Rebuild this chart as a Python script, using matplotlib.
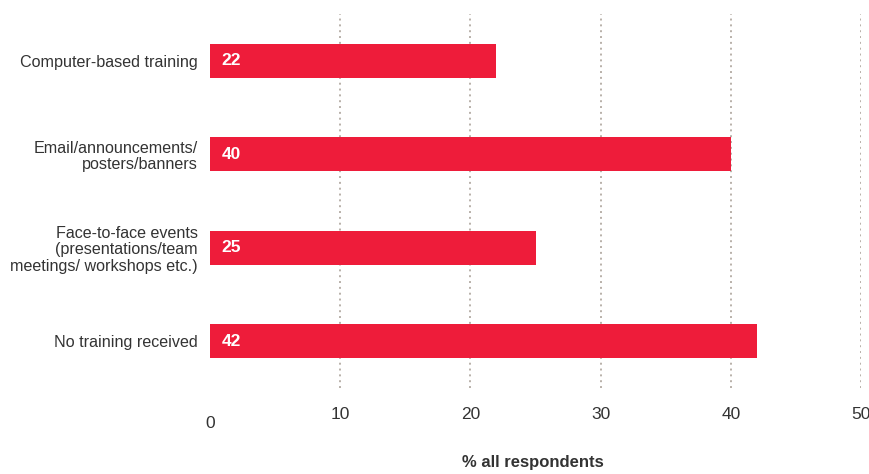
import matplotlib.pyplot as plt
from matplotlib.transforms import offset_copy

plt.rcParams['font.family'] = ['Liberation Sans', 'DejaVu Sans']

# 數據
categories = [
    'Computer-based training',
    'Email/announcements/\nposters/banners',
    'Face-to-face events\n(presentations/team\nmeetings/ workshops etc.)',
    'No training received',
]
values = [22, 40, 25, 42]
ticks = [10, 20, 30, 40, 50]

bar_color = '#ee1c3a'
text_color = '#333333'
grid_color = '#b8b0a9'

fig = plt.figure(figsize=(8.69, 4.74), dpi=100)
ax = fig.add_axes([210 / 869, 86 / 474, 651 / 869, 374 / 474])

y = range(len(categories))
ax.barh(y, values, height=0.36, color=bar_color, zorder=3)

# 條內數值
for yi, v in zip(y, values):
    ax.annotate(str(v), xy=(0, yi), xytext=(8.5, 0), textcoords='offset points',
                ha='left', va='center', color='white', fontsize=12.5,
                fontweight='bold', zorder=4)

ax.set_xlim(0, 50)
ax.set_ylim(3.5, -0.5)
ax.set_yticks(list(y))
ax.set_yticklabels(categories, fontsize=11.6, color=text_color,
                   linespacing=1.1)
ax.set_xticks(ticks)
ax.set_xticklabels([str(t) for t in ticks], fontsize=12.5, color=text_color)
ax.tick_params(axis='x', length=0, pad=14)
ax.tick_params(axis='y', length=0, pad=9)

# 0 的刻度標籤位置較低
ax.text(0, 0, '0', transform=offset_copy(ax.get_xaxis_transform(), fig=fig,
                                          x=0, y=-35, units='dots'),
        ha='center', va='center', fontsize=12.5, color=text_color)

ax.grid(axis='x', linestyle=(0, (1, 2)), color=grid_color, linewidth=1.4,
        zorder=0)
ax.grid(axis='y', visible=False)
for s in ax.spines.values():
    s.set_visible(False)

fig.text(533 / 869, 1 - 462 / 474, '% all respondents', ha='center',
         va='center', fontsize=12, fontweight='bold', color=text_color)

fig.savefig('out.png', dpi=100)
